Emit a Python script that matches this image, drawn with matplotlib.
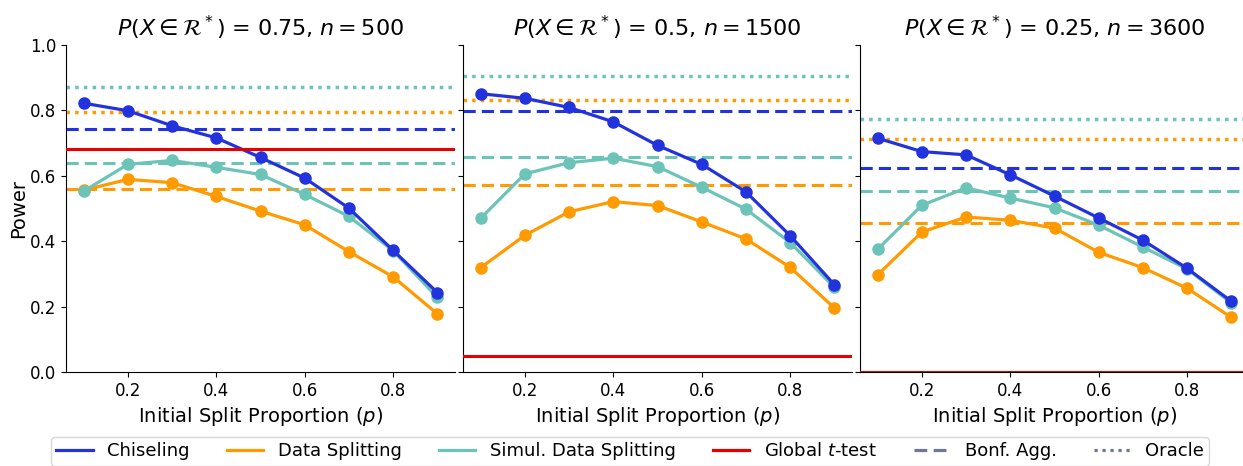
import matplotlib
matplotlib.use("Agg")
import matplotlib.pyplot as plt
from matplotlib.lines import Line2D
import numpy as np

p = [0.1, 0.2, 0.3, 0.4, 0.5, 0.6, 0.7, 0.8, 0.9]
titles = [r"$P(X \in \mathcal{R}^*)$ = 0.75, $n = 500$",
          r"$P(X \in \mathcal{R}^*)$ = 0.5, $n = 1500$",
          r"$P(X \in \mathcal{R}^*)$ = 0.25, $n = 3600$"]

chiseling = [
    [0.822, 0.799, 0.753, 0.716, 0.656, 0.593, 0.501, 0.372, 0.243],
    [0.851, 0.837, 0.809, 0.765, 0.693, 0.635, 0.551, 0.417, 0.267],
    [0.715, 0.674, 0.664, 0.603, 0.538, 0.471, 0.403, 0.317, 0.216],
]
data_split = [
    [0.556, 0.589, 0.579, 0.537, 0.492, 0.450, 0.368, 0.291, 0.178],
    [0.319, 0.418, 0.490, 0.521, 0.509, 0.459, 0.407, 0.320, 0.196],
    [0.297, 0.428, 0.474, 0.464, 0.440, 0.366, 0.319, 0.256, 0.167],
]
simul_split = [
    [0.553, 0.635, 0.647, 0.626, 0.604, 0.543, 0.476, 0.371, 0.228],
    [0.470, 0.606, 0.640, 0.654, 0.628, 0.565, 0.498, 0.396, 0.259],
    [0.375, 0.510, 0.563, 0.532, 0.502, 0.449, 0.382, 0.315, 0.211],
]
global_t = [0.683, 0.050, 0.0]
bonf_chisel = [0.742, 0.797, 0.625]
bonf_split = [0.560, 0.572, 0.456]
bonf_simul = [0.638, 0.658, 0.553]
oracle_split = [0.794, 0.831, 0.712]
oracle_simul = [0.873, 0.905, 0.773]

C_BLUE = "#2233dd"
C_ORANGE = "#ff9a00"
C_TEAL = "#6cc3b7"
C_RED = "#e60000"
C_GREY = "#6e7891"

fig = plt.figure(figsize=(12.43, 4.66), dpi=100)
W, H = 1243, 466
axes = []
lefts = [66, 463, 860]
for i, lx in enumerate(lefts):
    ax = fig.add_axes([lx / W, 1 - 372 / H, 389 / W, (372 - 45) / H],
                      sharey=axes[0] if axes else None)
    axes.append(ax)

for i, ax in enumerate(axes):
    ax.axhline(oracle_simul[i], color=C_TEAL, ls=(0, (1, 1.5)), lw=2.5)
    ax.axhline(oracle_split[i], color=C_ORANGE, ls=(0, (1, 1.5)), lw=2.5)
    ax.axhline(bonf_chisel[i], color=C_BLUE, ls=(0, (4, 2)), lw=2.2)
    ax.axhline(bonf_simul[i], color=C_TEAL, ls=(0, (4, 2)), lw=2.2)
    ax.axhline(bonf_split[i], color=C_ORANGE, ls=(0, (4, 2)), lw=2.2)
    ax.axhline(global_t[i], color=C_RED, lw=2.2, zorder=3)
    ax.plot(p, data_split[i], color=C_ORANGE, lw=2.3, marker="o", ms=8)
    ax.plot(p, simul_split[i], color=C_TEAL, lw=2.3, marker="o", ms=8)
    ax.plot(p, chiseling[i], color=C_BLUE, lw=2.3, marker="o", ms=8)
    ax.set_ylim(0, 1.0)
    ax.set_xticks([0.2, 0.4, 0.6, 0.8])
    ax.set_yticks([0, 0.2, 0.4, 0.6, 0.8, 1.0])
    ax.tick_params(labelsize=12)
    ax.set_title(titles[i], fontsize=16)
    ax.set_xlabel(r"Initial Split Proportion ($p$)", fontsize=14)
    ax.spines["top"].set_visible(False)
    ax.spines["right"].set_visible(False)
    if i > 0:
        ax.tick_params(labelleft=False)
axes[0].set_ylabel("Power", fontsize=14, labelpad=1)

handles = [
    Line2D([], [], color=C_BLUE, lw=2.3),
    Line2D([], [], color=C_ORANGE, lw=2.3),
    Line2D([], [], color=C_TEAL, lw=2.3),
    Line2D([], [], color=C_RED, lw=2.3),
    Line2D([], [], color=C_GREY, lw=2.3, ls=(0, (4, 2))),
    Line2D([], [], color=C_GREY, lw=2.3, ls=(0, (1, 1.5))),
]
labels = ["Chiseling", "Data Splitting", "Simul. Data Splitting",
          r"Global $t$-test", "Bonf. Agg.", "Oracle"]
fig.legend(handles, labels, loc="upper center", ncol=6,
           bbox_to_anchor=(630 / W, 1 - 437 / H), borderaxespad=0.0,
           fontsize=13, columnspacing=2.08, handlelength=2.0,
           borderpad=0.3)

fig.savefig("out.png", dpi=100)
